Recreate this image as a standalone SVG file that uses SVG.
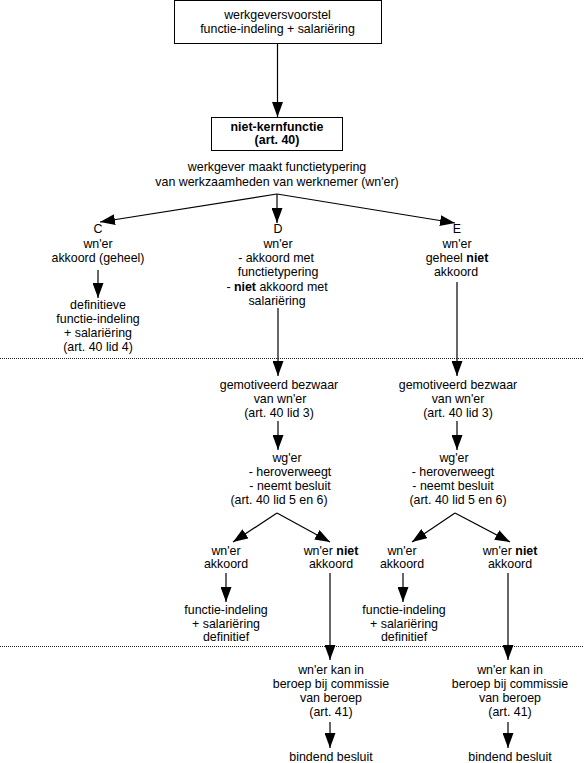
<svg xmlns="http://www.w3.org/2000/svg" width="584" height="763" viewBox="0 0 584 763">
<defs>
<style>
text{font-family:"Liberation Sans",Arial,Helvetica,sans-serif;font-size:12.4px;fill:#000;text-anchor:middle}
.b{font-weight:bold}
.box{fill:#fff;stroke:#000;stroke-width:1}
.c{stroke:#000;stroke-width:1.2;fill:none;marker-end:url(#ah)}
.sep{stroke:#222;stroke-width:1;stroke-dasharray:1,1}
</style>
<marker id="ah" markerUnits="userSpaceOnUse" markerWidth="15" markerHeight="11" refX="15" refY="5.5" orient="auto">
<path d="M0,0 L15,5.5 L0,11 Z" fill="#000"/>
</marker>
</defs>
<rect width="584" height="763" fill="#fff"/>
<g id="separators">
<line class="sep" x1="0" y1="358.5" x2="584" y2="358.5"/>
<line class="sep" x1="0" y1="646.5" x2="584" y2="646.5"/>
</g>
<g id="connectors">
<line class="c" x1="277.5" y1="44" x2="277.5" y2="117"/>
<line class="c" x1="277" y1="194" x2="100" y2="222"/>
<line class="c" x1="277" y1="194" x2="277" y2="223"/>
<line class="c" x1="277" y1="194" x2="455" y2="223"/>
<line class="c" x1="98" y1="270" x2="98" y2="298"/>
<line class="c" x1="278" y1="308" x2="278" y2="376"/>
<line class="c" x1="457" y1="282" x2="457" y2="376"/>
<line class="c" x1="278" y1="421" x2="278" y2="450"/>
<line class="c" x1="457" y1="421" x2="457" y2="450"/>
<line class="c" x1="277" y1="513" x2="233" y2="542"/>
<line class="c" x1="277" y1="513" x2="330" y2="542"/>
<line class="c" x1="455" y1="513" x2="412" y2="542"/>
<line class="c" x1="455" y1="513" x2="510" y2="542"/>
<line class="c" x1="226" y1="573" x2="226" y2="602"/>
<line class="c" x1="403" y1="573" x2="403" y2="602"/>
<line class="c" x1="330" y1="573" x2="330" y2="660"/>
<line class="c" x1="508" y1="573" x2="508" y2="660"/>
<line class="c" x1="330" y1="722" x2="330" y2="748"/>
<line class="c" x1="508" y1="722" x2="508" y2="748"/>
</g>
<g id="n-voorstel">
<rect class="box" x="174.5" y="0.5" width="207" height="43"/>
<text x="277.5" y="19">werkgeversvoorstel</text>
<text x="277.5" y="33">functie-indeling + salariëring</text>
</g>
<g id="n-niet-kernfunctie">
<rect class="box" x="211.5" y="117.5" width="131" height="33"/>
<text class="b" x="277" y="131">niet-kernfunctie</text>
<text class="b" x="277" y="144">(art. 40)</text>
</g>
<g id="n-functietypering">
<text x="277" y="171">werkgever maakt functietypering</text>
<text x="277" y="186">van werkzaamheden van werknemer (wn'er)</text>
</g>
<g id="n-C">
<text x="98" y="233">C</text>
<text x="98" y="248">wn'er</text>
<text x="98" y="262">akkoord (geheel)</text>
</g>
<g id="n-C-def">
<text x="98" y="309">definitieve</text>
<text x="98" y="323">functie-indeling</text>
<text x="98" y="337">+ salariëring</text>
<text x="98" y="351">(art. 40 lid 4)</text>
</g>
<g id="n-D">
<text x="278" y="233">D</text>
<text x="278" y="248">wn'er</text>
<text x="276" y="262">- akkoord met</text>
<text x="278" y="276">functietypering</text>
<text x="277" y="291">- <tspan class="b">niet</tspan> akkoord met</text>
<text x="277" y="305">salariëring</text>
</g>
<g id="n-E">
<text x="457" y="233">E</text>
<text x="457" y="248">wn'er</text>
<text x="457" y="262">geheel <tspan class="b">niet</tspan></text>
<text x="456" y="276">akkoord</text>
</g>
<g id="n-D-bezwaar">
<text x="279" y="389">gemotiveerd bezwaar</text>
<text x="280" y="403">van wn'er</text>
<text x="279" y="417">(art. 40 lid 3)</text>
</g>
<g id="n-E-bezwaar">
<text x="458" y="389">gemotiveerd bezwaar</text>
<text x="458" y="403">van wn'er</text>
<text x="458" y="417">(art. 40 lid 3)</text>
</g>
<g id="n-D-wger">
<text x="287" y="462">wg'er</text>
<text x="290" y="476">- heroverweegt</text>
<text x="290" y="490">- neemt besluit</text>
<text x="279" y="504">(art. 40 lid 5 en 6)</text>
</g>
<g id="n-E-wger">
<text x="454" y="462">wg'er</text>
<text x="453" y="476">- heroverweegt</text>
<text x="453" y="490">- neemt besluit</text>
<text x="458" y="504">(art. 40 lid 5 en 6)</text>
</g>
<g id="n-D-akkoord">
<text x="226" y="555">wn'er</text>
<text x="226" y="568">akkoord</text>
</g>
<g id="n-D-niet-akkoord">
<text x="331" y="555">wn'er <tspan class="b">niet</tspan></text>
<text x="331" y="568">akkoord</text>
</g>
<g id="n-E-akkoord">
<text x="402" y="555">wn'er</text>
<text x="402" y="568">akkoord</text>
</g>
<g id="n-E-niet-akkoord">
<text x="510" y="555">wn'er <tspan class="b">niet</tspan></text>
<text x="510" y="568">akkoord</text>
</g>
<g id="n-D-definitief">
<text x="226" y="614">functie-indeling</text>
<text x="226" y="628">+ salariëring</text>
<text x="226" y="641">definitief</text>
</g>
<g id="n-E-definitief">
<text x="404" y="614">functie-indeling</text>
<text x="404" y="628">+ salariëring</text>
<text x="404" y="641">definitief</text>
</g>
<g id="n-D-beroep">
<text x="331" y="674">wn'er kan in</text>
<text x="331" y="688">beroep bij commissie</text>
<text x="331" y="702">van beroep</text>
<text x="331" y="716">(art. 41)</text>
</g>
<g id="n-E-beroep">
<text x="510" y="674">wn'er kan in</text>
<text x="510" y="688">beroep bij commissie</text>
<text x="510" y="702">van beroep</text>
<text x="510" y="716">(art. 41)</text>
</g>
<g id="n-D-bindend">
<text x="331" y="761">bindend besluit</text>
</g>
<g id="n-E-bindend">
<text x="510" y="761">bindend besluit</text>
</g>
</svg>
